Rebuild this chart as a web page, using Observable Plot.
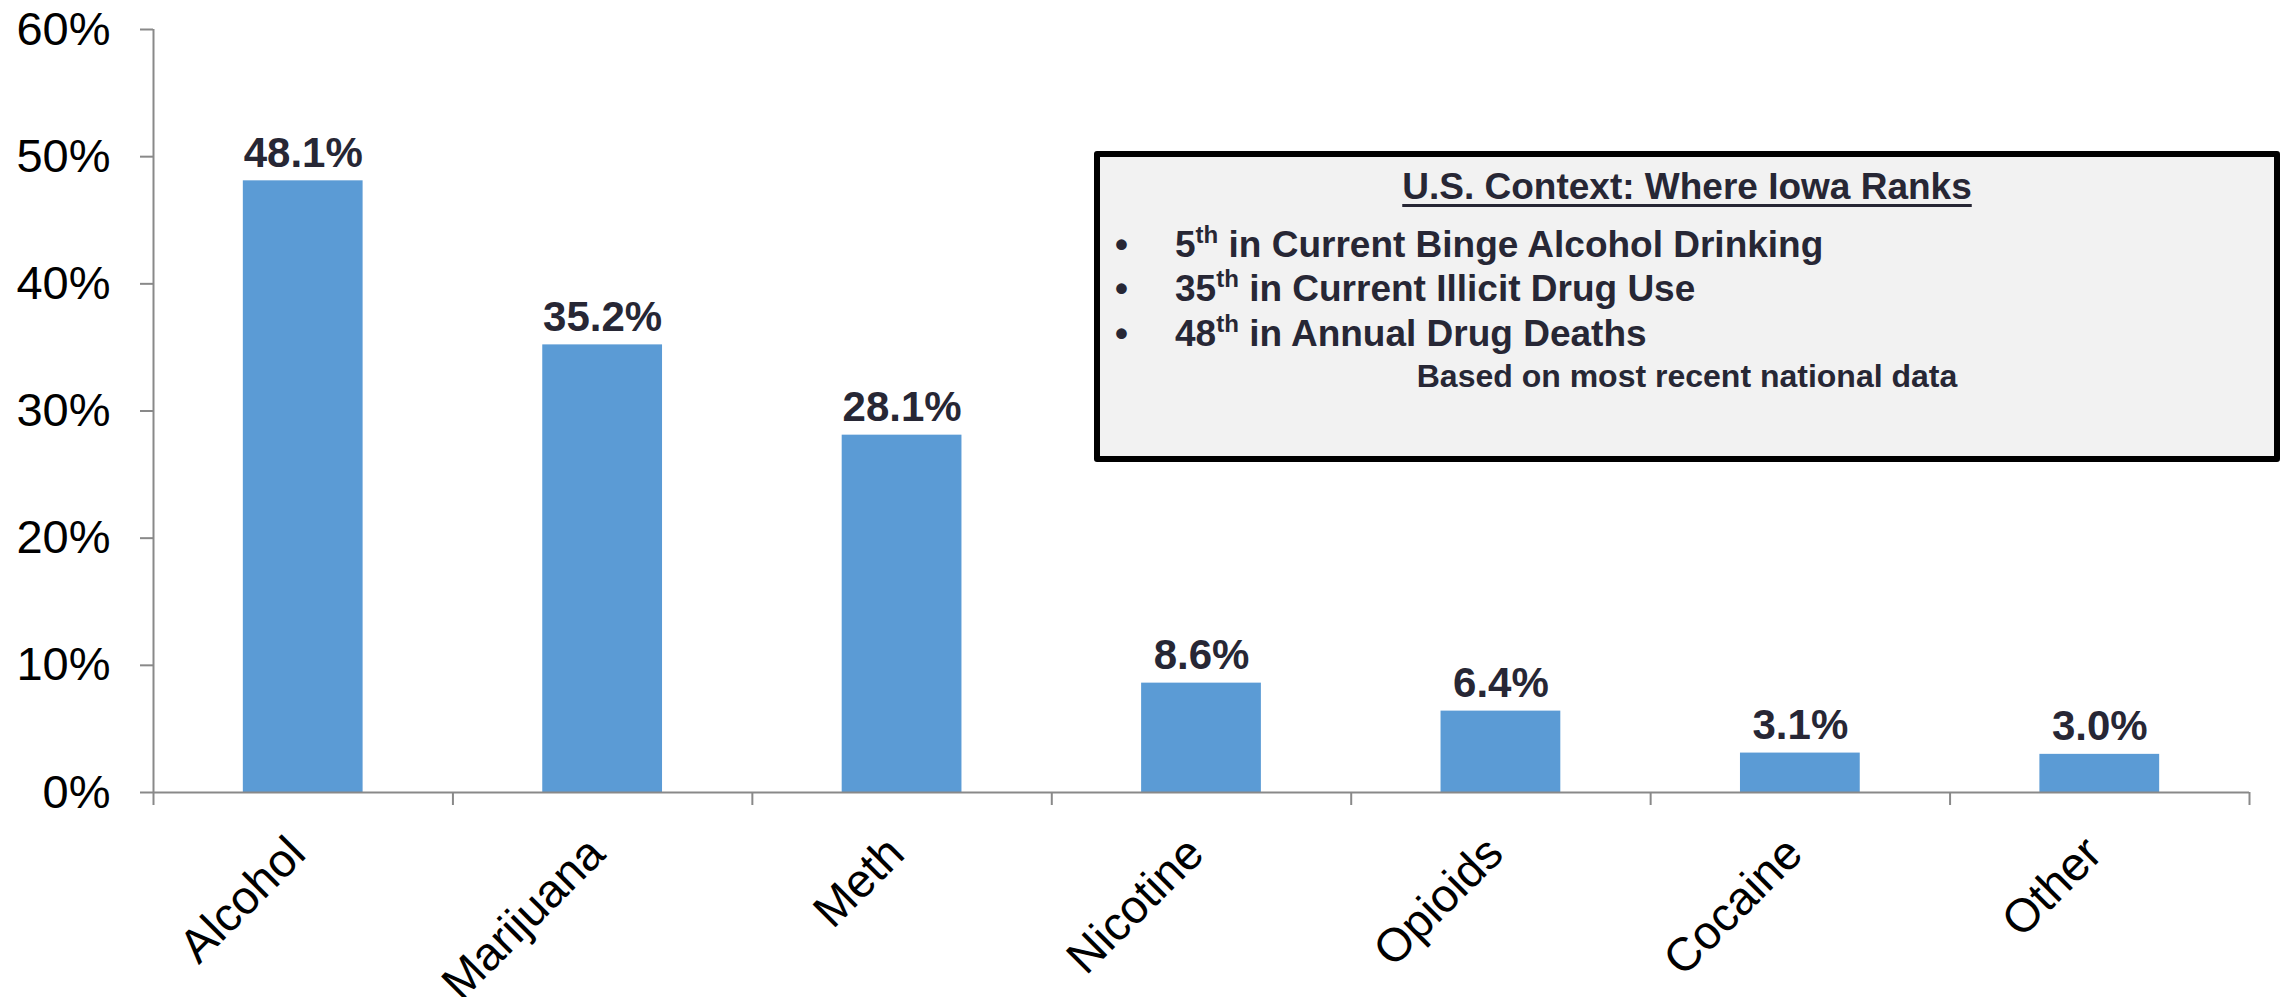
<!DOCTYPE html>
<html>
<head>
<meta charset="utf-8">
<script src="https://cdn.jsdelivr.net/npm/d3@7"></script>
<script src="https://cdn.jsdelivr.net/npm/@observablehq/plot@0.6"></script>
<style>
  html, body { margin: 0; padding: 0; background: #ffffff; }
  #wrap { position: relative; width: 2282px; height: 997px; overflow: hidden; font-family: "Liberation Sans", Arial, sans-serif; }
  #box { position: absolute; left: 1094px; top: 151px; width: 1186px; height: 311px; box-sizing: border-box; border: 6px solid #000; border-radius: 3px; background: #f2f2f2; }
  .bt { position: absolute; font-weight: bold; color: #272735; white-space: nowrap; }
  .title { left: 1094px; width: 1186px; text-align: center; top: 168px; font-size: 37px; line-height: 37px; text-decoration: underline; text-decoration-thickness: 3px; text-underline-offset: 5px; }
  .item { left: 1175px; font-size: 37px; line-height: 37px; }
  .dot { left: 1115px; font-size: 37px; line-height: 37px; }
  .note { left: 1094px; width: 1186px; text-align: center; top: 360px; font-size: 32px; line-height: 32px; }
  .sup { font-size: 0.65em; position: relative; top: -0.6em; }
</style>
</head>
<body>
<div id="wrap"></div>
<script>
// ---- data ----
const categories = ["Alcohol", "Marijuana", "Meth", "Nicotine", "Opioids", "Cocaine", "Other"];
const values = [48.1, 35.2, 28.1, 8.6, 6.4, 3.1, 3.0];
const yTicks = [0, 10, 20, 30, 40, 50, 60];
const boxTitle = "U.S. Context: Where Iowa Ranks";
const boxRanks = ["5", "35", "48"];
const boxSuffix = ["th", "th", "th"];
const boxTexts = [" in Current Binge Alcohol Drinking", " in Current Illicit Drug Use", " in Annual Drug Deaths"];
const boxNote = "Based on most recent national data";

const rows = categories.map((c, i) => ({category: c, i, value: values[i]}));
const boundaries = d3.range(categories.length + 1);
const centers = categories.map((c, i) => i + 0.5);

const axisGray = "#898989";
const textDark = "#272735";

const chart = Plot.plot({
  width: 2282,
  height: 997,
  marginLeft: 153,
  marginRight: 33,
  marginTop: 29,
  marginBottom: 205,
  style: {fontFamily: "'Liberation Sans', Arial, sans-serif", background: "transparent", overflow: "visible"},
  x: {domain: [0, categories.length], axis: null},
  y: {domain: [0, 60], axis: null},
  marks: [
    Plot.rectY(rows, {x1: d => d.i + 0.3, x2: d => d.i + 0.7, y: "value", fill: "#5b9bd5"}),
    Plot.ruleX([0], {stroke: axisGray, strokeWidth: 2}),
    Plot.ruleY([0], {stroke: axisGray, strokeWidth: 2}),
    Plot.axisY({ticks: yTicks, tickFormat: d => d + "%", label: null, tickSize: 13, tickPadding: 30, fontSize: 47, fill: "#000", stroke: axisGray, strokeWidth: 2}),
    Plot.axisX({ticks: boundaries, tickFormat: () => "", label: null, tickSize: 13, stroke: axisGray, strokeWidth: 2}),
    Plot.axisX({ticks: centers, tickFormat: d => categories[Math.floor(d)], label: null, tickSize: 0, tickPadding: 53, tickRotate: -45, dx: -6, fontSize: 47, fill: "#000"}),
    Plot.text(rows, {x: d => d.i + 0.5, y: "value", text: d => d.value.toFixed(1) + "%", lineAnchor: "bottom", dy: -14, fontSize: 42, fontWeight: "bold", fill: textDark})
  ]
});

const wrap = document.getElementById("wrap");
chart.style.position = "absolute";
chart.style.left = "0px";
chart.style.top = "0px";
wrap.appendChild(chart);

// annotation box
const box = document.createElement("div");
box.id = "box";
wrap.appendChild(box);

const t = document.createElement("div");
t.className = "bt title";
t.textContent = boxTitle;
wrap.appendChild(t);

const tops = [226, 270, 315];
boxRanks.forEach((r, k) => {
  const dot = document.createElement("div");
  dot.className = "bt dot";
  dot.style.top = tops[k] + "px";
  dot.textContent = "\u2022";
  wrap.appendChild(dot);
  const line = document.createElement("div");
  line.className = "bt item";
  line.style.top = tops[k] + "px";
  const a = document.createElement("span");
  a.textContent = r;
  const s = document.createElement("span");
  s.className = "sup";
  s.textContent = boxSuffix[k];
  const b = document.createElement("span");
  b.textContent = boxTexts[k];
  line.append(a, s, b);
  wrap.appendChild(line);
});

const n = document.createElement("div");
n.className = "bt note";
n.textContent = boxNote;
wrap.appendChild(n);
</script>
</body>
</html>
